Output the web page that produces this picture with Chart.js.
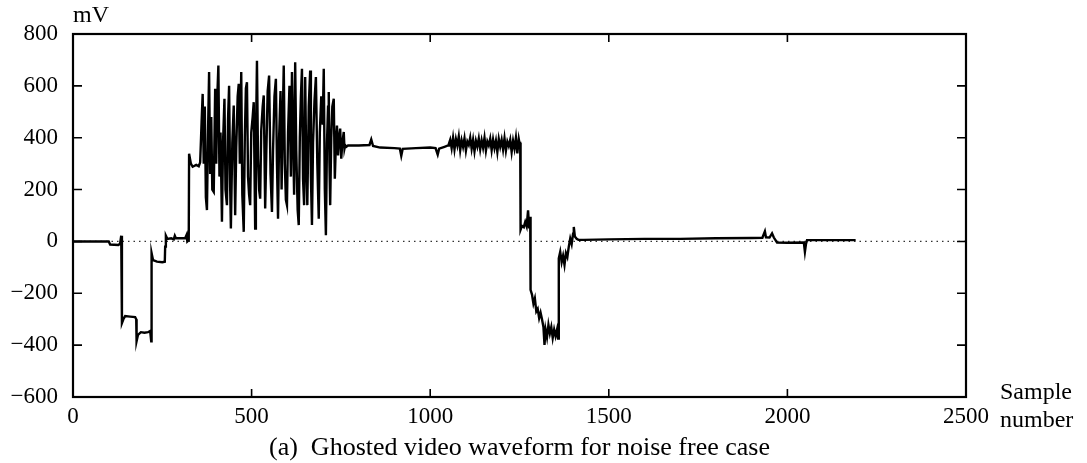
<!DOCTYPE html>
<html>
<head>
<meta charset="utf-8">
<script src="https://cdn.jsdelivr.net/npm/chart.js@4.4.1/dist/chart.umd.min.js"></script>
<style>
  html, body { margin: 0; padding: 0; background: #fff; }
</style>
</head>
<body>
<canvas id="waveChart" width="1087" height="463"></canvas>
<script>
// waveform, split by section (sample number / mV)
const leadSample = [0,100,104,127,132,135,137,137,141,146,160,174,177,178,182,190,200,210,216,219,
  220,224,235,250,257,258,260,264,275,282,285,288,300,314,318,320,324,325,330,335,345,352,356];
const leadMv = [0,0,-12,-14,-8,22,10,-315,-300,-288,-290,-292,-300,-385,-360,-350,-352,-350,-345,-385,
  -45,-72,-78,-80,-78,-20,22,10,12,8,22,12,12,12,25,0,5,338,300,288,295,290,305];

const burstSample = [
  360,363,366,369,372,375,378,381,384,387,
  390,394,398,401,404,407,410,413,417,420,
  424,427,431,434,437,440,442,446,450,454,
  457,461,464,467,471,474,478,481,484,487,
  490,493,496,499,503,506,510,512,515,518,
  521,524,527,531,534,538,541,545,549,553,
  557,560,564,568,571,574,577,581,584,587,
  590,593,596,599,602,606,610,613,616,619,
  622,625,629,632,635,638,641,644,647,650,
  653,656,660,664,666,669,672,676,680,684,
  688,691,695,699,702,705,708,711,714,716,
  718,720,723,726,730,733,736,739,742,745,
  748,751,754,758,760,762,765];
const burstMv = [
  460,569,300,520,170,121,420,653,260,480,
  200,191,589,300,560,678,250,420,76,380,
  550,200,140,470,600,210,50,380,524,101,
  360,560,608,300,653,180,37,400,590,614,
  250,180,140,420,480,537,50,380,697,320,
  200,165,430,520,563,127,330,580,640,260,
  114,350,560,627,300,88,400,580,200,460,
  678,300,160,140,420,600,250,653,420,180,
  691,350,120,63,400,560,666,240,140,634,
  300,140,520,659,250,63,380,540,634,300,
  88,420,560,450,666,200,24,380,520,576,
  300,140,400,520,550,242,380,447,332,400,
  435,319,380,422,358,371,365];

const plateauSample = [770,800,830,835,840,860,900,915,919,923,960,1000,1015,1021,1025,1040,1050];
const plateauMv = [370,370,372,393,368,362,360,358,330,357,360,362,360,335,358,365,370];

const noiseSample = [
  1052,1056,1060,1064,1068,1072,1076,1080,1084,1088,
  1092,1096,1100,1104,1108,1112,1116,1120,1124,1128,
  1132,1136,1140,1144,1148,1152,1156,1160,1164,1168,
  1172,1176,1180,1184,1188,1192,1196,1200,1204,1208,
  1212,1216,1220,1224,1228,1232,1236,1240,1244,1248,1250];
const noiseMv = [
  375,392,360,400,355,395,370,405,352,390,
  365,398,350,385,372,400,358,392,348,388,
  366,397,355,390,362,400,350,385,370,396,
  352,393,360,388,345,395,365,392,355,398,
  350,385,368,392,345,388,358,400,340,395,380];

const ghostSample = [
  1252,1253,1257,1262,1266,1270,1274,1277,1280,1281,
  1285,1289,1293,1297,1301,1305,1309,1313,1317,1320,
  1323,1327,1331,1335,1339,1343,1347,1351,1355,1358,
  1360,1364,1368,1372,1376,1380,1384,1388,1392,1396,
  1400,1402,1405,1410,1415,1430];
const ghostMv = [
  380,45,60,55,75,58,120,50,95,-187,
  -205,-240,-220,-270,-260,-296,-275,-300,-330,-399,
  -340,-370,-322,-355,-330,-372,-340,-365,-340,-375,
  -65,-40,-80,-55,-90,-45,-60,-20,11,-10,
  30,56,19,10,6,6];

const tailSample = [1500,1600,1700,1800,1900,1930,1937,1940,1950,1957,1962,1971,2000,2046,2049,2052,2055,2100,2150,2191];
const tailMv = [8,10,10,12,13,14,39,16,15,31,15,-4,-5,-4,-40,-10,5,5,5,5];

const xTicks = [0, 500, 1000, 1500, 2000, 2500];
const yTicks = [-600, -400, -200, 0, 200, 400, 600, 800];
const caption = '(a)  Ghosted video waveform for noise free case';

const FONT = '"Liberation Serif", "Times New Roman", serif';

const sampleNo = [].concat(leadSample, burstSample, plateauSample, noiseSample, ghostSample, tailSample);
const millivolts = [].concat(leadMv, burstMv, plateauMv, noiseMv, ghostMv, tailMv);
const wave = sampleNo.map((s, i) => ({ x: s, y: millivolts[i] }));

// box, inward ticks and the loose text labels
const framePlugin = {
  id: 'frame',
  afterDraw(chart) {
    const { ctx, chartArea: a, scales: { x, y } } = chart;
    ctx.save();
    ctx.strokeStyle = '#000';
    ctx.lineWidth = 1.6;
    ctx.beginPath();
    xTicks.slice(1, -1).forEach(v => {
      const px = x.getPixelForValue(v);
      ctx.moveTo(px, a.bottom); ctx.lineTo(px, a.bottom - 8);
      ctx.moveTo(px, a.top); ctx.lineTo(px, a.top + 8);
    });
    yTicks.slice(1, -1).forEach(v => {
      const py = y.getPixelForValue(v);
      ctx.moveTo(a.left, py); ctx.lineTo(a.left + 9, py);
      ctx.moveTo(a.right, py); ctx.lineTo(a.right - 9, py);
    });
    ctx.stroke();
    ctx.lineWidth = 2.2;
    ctx.strokeRect(a.left, a.top, a.right - a.left, a.bottom - a.top);

    ctx.fillStyle = '#000';
    ctx.font = '24px ' + FONT;
    ctx.textBaseline = 'middle';
    ctx.textAlign = 'left';
    ctx.fillText('mV', a.left, 16);
    ctx.fillText('Sample', 1000, 393);
    ctx.fillText('number', 1000, 421);
    ctx.font = '26px ' + FONT;
    ctx.textAlign = 'center';
    ctx.fillText(caption, (a.left + a.right) / 2, 448);
    ctx.restore();
  }
};

new Chart(document.getElementById('waveChart'), {
  type: 'scatter',
  data: {
    datasets: [
      {
        data: wave,
        showLine: true,
        borderColor: '#000',
        borderWidth: 2.4,
        pointRadius: 0,
        tension: 0
      },
      {
        data: [{ x: 0, y: 0 }, { x: 2500, y: 0 }],
        showLine: true,
        borderColor: '#333',
        borderWidth: 1.2,
        borderDash: [1.5, 4],
        pointRadius: 0
      }
    ]
  },
  options: {
    responsive: false,
    animation: false,
    layout: { padding: { top: 34, right: 121, left: 0, bottom: 0 } },
    plugins: { legend: { display: false }, tooltip: { enabled: false } },
    scales: {
      x: {
        type: 'linear',
        min: 0,
        max: 2500,
        afterBuildTicks: s => { s.ticks = xTicks.map(v => ({ value: v })); },
        afterFit: s => { s.height = 66; },
        grid: { display: false, drawTicks: false },
        border: { display: false },
        ticks: {
          color: '#000', padding: 6, maxRotation: 0, autoSkip: false,
          font: { family: FONT, size: 23 },
          callback: v => String(v)
        }
      },
      y: {
        min: -600,
        max: 800,
        afterBuildTicks: s => { s.ticks = yTicks.map(v => ({ value: v })); },
        afterFit: s => { s.width = 73; },
        grid: { display: false, drawTicks: false },
        border: { display: false },
        ticks: {
          color: '#000',
          padding: 15,
          font: { family: FONT, size: 23 },
          callback: v => (v < 0 ? '\u2212' + Math.abs(v) : String(v))
        }
      }
    }
  },
  plugins: [framePlugin]
});
</script>
</body>
</html>
